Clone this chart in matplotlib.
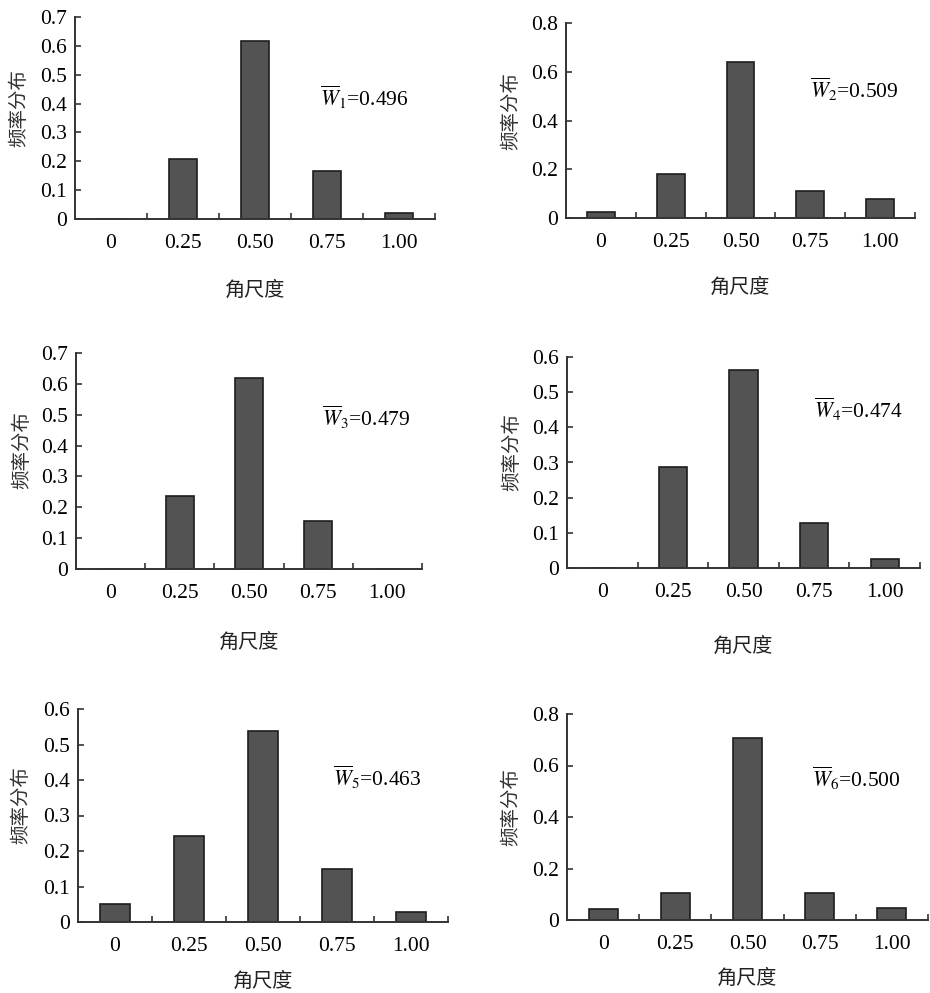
import matplotlib.pyplot as plt
import numpy as np

plt.rcParams['font.family'] = ['Liberation Serif', 'Noto Sans CJK SC']
plt.rcParams['mathtext.fontset'] = 'stix'
plt.rcParams['axes.unicode_minus'] = False

# 角尺度类别
categories = ['0', '0.25', '0.50', '0.75', '1.00']

# 六个样地的频率分布
freq1 = [0.0, 0.209, 0.617, 0.166, 0.021]
freq2 = [0.023, 0.18, 0.642, 0.11, 0.078]
freq3 = [0.0, 0.238, 0.619, 0.155, 0.0]
freq4 = [0.0, 0.286, 0.564, 0.129, 0.026]
freq5 = [0.05, 0.242, 0.539, 0.148, 0.028]
freq6 = [0.044, 0.104, 0.708, 0.104, 0.047]

# 平均角尺度
w_means = ['0.496', '0.509', '0.479', '0.474', '0.463', '0.500']

# y 轴上限和刻度间隔
y_max = [0.7, 0.8, 0.7, 0.6, 0.6, 0.8]
y_step = [0.1, 0.2, 0.1, 0.1, 0.1, 0.2]

all_freq = [freq1, freq2, freq3, freq4, freq5, freq6]

# 子图位置 (像素: 左, 右, 上, 下)
boxes = [(75, 435, 17, 219), (566, 915, 23, 218),
         (76, 422, 353, 569), (567, 920, 357, 568),
         (78, 448, 709, 922), (567, 928, 714, 920)]
xlabel_y = [-0.31, -0.31, -0.30, -0.33, -0.235, -0.24]
note_pos = [(0.68, 0.60), (0.70, 0.66), (0.71, 0.70),
            (0.70, 0.75), (0.69, 0.68), (0.68, 0.69)]

W, H = 930, 993
fig = plt.figure(figsize=(W / 100, H / 100), dpi=100)

for i in range(6):
    l, r, t, b = boxes[i]
    ax = fig.add_axes([l / W, 1 - b / H, (r - l) / W, (b - t) / H])
    x = np.arange(len(categories))
    ax.bar(x, all_freq[i], width=0.4, color='#535353', edgecolor='#1e1e1e', linewidth=1.2)

    ax.set_xlim(-0.5, 4.5)
    ax.set_ylim(0, y_max[i])
    ax.set_xticks(x)
    ax.set_xticklabels(categories, fontsize=15.5)
    ax.set_xticks(np.arange(0.5, 4.6, 1), minor=True)
    ax.tick_params(axis='x', which='major', length=0, pad=11)
    ax.tick_params(axis='x', which='minor', direction='in', length=4, width=1.2, color='#333333')

    yt = np.arange(0, y_max[i] + 1e-9, y_step[i])
    ax.set_yticks(yt)
    ax.set_yticklabels(['0' if v == 0 else '%.1f' % v for v in yt], fontsize=15.5)
    ax.tick_params(axis='y', direction='in', length=4, width=1.2, pad=6, color='#333333')

    for s in ['top', 'right']:
        ax.spines[s].set_visible(False)
    for s in ['left', 'bottom']:
        ax.spines[s].set_linewidth(1.4)
        ax.spines[s].set_color('#333333')

    ax.set_ylabel('频率分布', fontsize=14, color='#333333')
    ax.yaxis.set_label_coords(-0.13, 0.55)
    ax.set_xlabel('角尺度', fontsize=14.5, color='#222222')
    ax.xaxis.set_label_coords(0.5, xlabel_y[i])

    ax.text(note_pos[i][0], note_pos[i][1],
            r'$\overline{W}_{%d}$=%s' % (i + 1, w_means[i]),
            transform=ax.transAxes, fontsize=15.5, ha='left', va='center')

fig.savefig('out.png', dpi=100)
